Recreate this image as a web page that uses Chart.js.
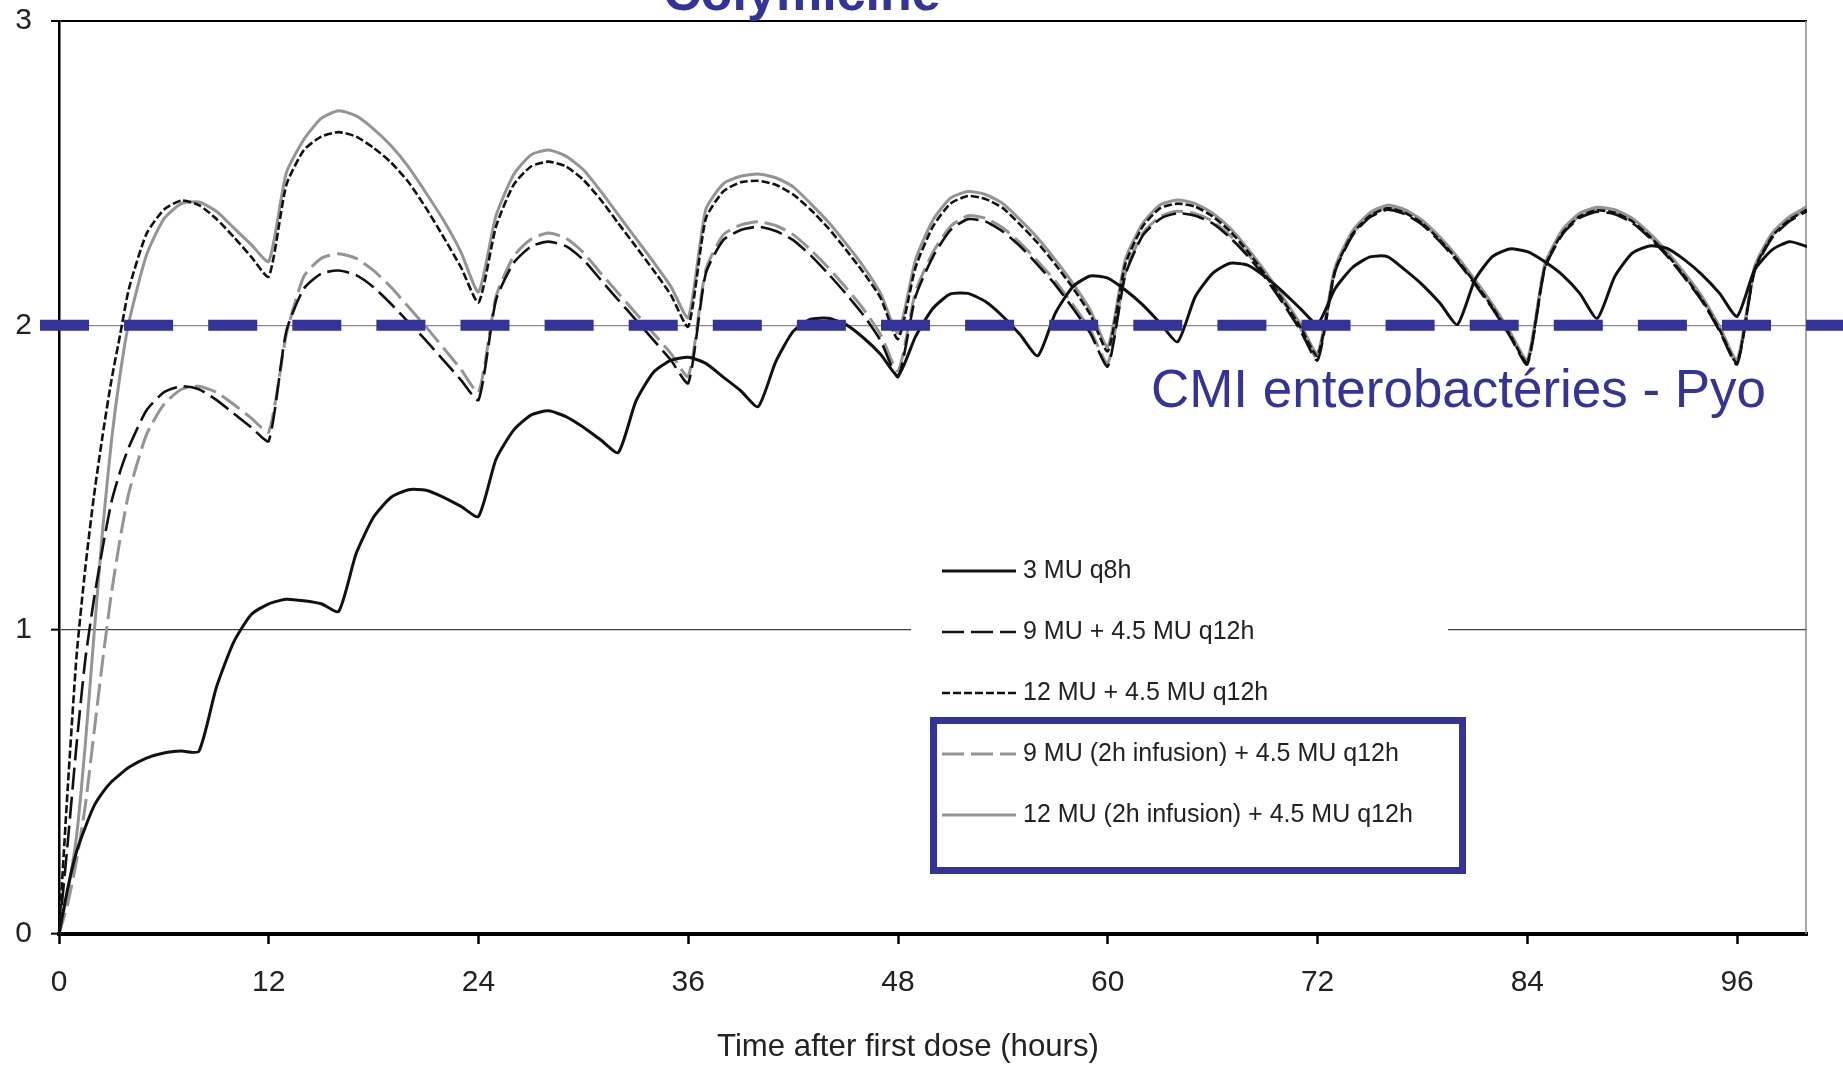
<!DOCTYPE html>
<html>
<head>
<meta charset="utf-8">
<title>Colymicine</title>
<script src="https://cdn.jsdelivr.net/npm/chart.js@4.4.1/dist/chart.umd.min.js"></script>
<style>
  html, body { margin: 0; padding: 0; background: #fff; }
  #wrap { width: 1843px; height: 1065px; }
</style>
</head>
<body>
<div id="wrap"><canvas id="pk-chart" width="1843" height="1065"></canvas></div>
<script>
// ─── Data ────────────────────────────────────────────────────────────────────

const hours = [
  0, 0.5, 1, 1.5, 2, 2.5, 3, 3.5, 4,
  5, 6, 7, 8, 9, 10, 11, 12,
  13, 14, 15, 16, 17, 18, 19, 20, 21, 22, 23, 24,
  25, 26, 27, 28, 29, 30, 31, 32, 33, 34, 35, 36,
  37, 38, 39, 40, 41, 42, 43, 44, 45, 46, 47, 48,
  49, 50, 51, 52, 53, 54, 55, 56, 57, 58, 59, 60,
  61, 62, 63, 64, 65, 66, 67, 68, 69, 70, 71, 72,
  73, 74, 75, 76, 77, 78, 79, 80, 81, 82, 83, 84,
  85, 86, 87, 88, 89, 90, 91, 92, 93, 94, 95, 96,
  97, 98, 99, 100,
];

// 3 MU q8h
const q8h = [
  0, 0.15, 0.27, 0.35, 0.42, 0.465, 0.50, 0.525, 0.548,
  0.578, 0.595, 0.601, 0.600, 0.81, 0.96, 1.05, 1.085,
  1.10, 1.095, 1.085, 1.06, 1.25, 1.37, 1.435, 1.46, 1.458, 1.435, 1.405, 1.372,
  1.56, 1.655, 1.705, 1.719, 1.70, 1.665, 1.623, 1.582, 1.75, 1.845, 1.885, 1.895,
  1.875, 1.83, 1.785, 1.733, 1.88, 1.98, 2.02, 2.023, 2.003, 1.96, 1.905, 1.835,
  1.963, 2.056, 2.103, 2.105, 2.078, 2.029, 1.968, 1.90, 2.04, 2.127, 2.162, 2.155,
  2.116, 2.067, 2.007, 1.946, 2.094, 2.171, 2.204, 2.198, 2.16, 2.111, 2.056, 2.005,
  2.12, 2.19, 2.225, 2.226, 2.182, 2.133, 2.073, 2.003, 2.149, 2.226, 2.251, 2.242,
  2.209, 2.166, 2.105, 2.023, 2.16, 2.237, 2.261, 2.253, 2.215, 2.166, 2.105, 2.029,
  2.182, 2.248, 2.275, 2.259,
];

// 9 MU + 4.5 MU q12h
const load9 = [
  0, 0.3, 0.62, 0.9, 1.1, 1.27, 1.42, 1.52, 1.60,
  1.72, 1.78, 1.80, 1.79, 1.755, 1.71, 1.665, 1.62,
  1.98, 2.12, 2.17, 2.18, 2.165, 2.125, 2.07, 2.01, 1.95, 1.885, 1.82, 1.755,
  2.083, 2.204, 2.259, 2.275, 2.26, 2.215, 2.149, 2.083, 2.018, 1.952, 1.886, 1.81,
  2.17, 2.28, 2.313, 2.324, 2.31, 2.28, 2.23, 2.17, 2.105, 2.035, 1.95, 1.83,
  2.094, 2.226, 2.313, 2.349, 2.341, 2.308, 2.259, 2.198, 2.133, 2.056, 1.974, 1.865,
  2.165, 2.295, 2.35, 2.368, 2.36, 2.335, 2.288, 2.228, 2.157, 2.074, 1.985, 1.885,
  2.175, 2.295, 2.355, 2.38, 2.365, 2.33, 2.275, 2.21, 2.135, 2.055, 1.965, 1.872,
  2.185, 2.298, 2.353, 2.373, 2.365, 2.337, 2.287, 2.227, 2.156, 2.079, 1.981, 1.872,
  2.178, 2.287, 2.342, 2.375,
];

// 12 MU + 4.5 MU q12h
const load12 = [
  0, 0.48, 0.91, 1.2, 1.44, 1.64, 1.82, 1.97, 2.12,
  2.30, 2.38, 2.41, 2.395, 2.35, 2.29, 2.225, 2.16,
  2.46, 2.575, 2.62, 2.635, 2.62, 2.583, 2.535, 2.47, 2.385, 2.29, 2.19, 2.075,
  2.324, 2.461, 2.522, 2.538, 2.522, 2.478, 2.412, 2.335, 2.259, 2.182, 2.10, 1.996,
  2.35, 2.44, 2.47, 2.475, 2.462, 2.43, 2.38, 2.32, 2.25, 2.175, 2.09, 1.955,
  2.19, 2.325, 2.40, 2.425, 2.415, 2.385, 2.33, 2.27, 2.20, 2.123, 2.035, 1.915,
  2.20, 2.325, 2.385, 2.40, 2.39, 2.358, 2.309, 2.243, 2.167, 2.084, 1.997, 1.90,
  2.18, 2.30, 2.36, 2.385, 2.37, 2.335, 2.28, 2.215, 2.14, 2.06, 1.97, 1.878,
  2.19, 2.303, 2.358, 2.378, 2.37, 2.342, 2.292, 2.232, 2.161, 2.084, 1.986, 1.877,
  2.183, 2.292, 2.347, 2.38,
];

// 9 MU (2h infusion) + 4.5 MU q12h
const inf9 = [
  0, 0.1, 0.24, 0.42, 0.66, 0.9, 1.12, 1.3, 1.45,
  1.64, 1.74, 1.79, 1.80, 1.78, 1.74, 1.695, 1.65,
  1.968, 2.16, 2.22, 2.235, 2.22, 2.18, 2.125, 2.06, 1.995, 1.925, 1.855, 1.78,
  2.094, 2.226, 2.283, 2.303, 2.286, 2.239, 2.171, 2.105, 2.04, 1.974, 1.908, 1.832,
  2.182, 2.297, 2.33, 2.34, 2.328, 2.298, 2.248, 2.19, 2.125, 2.055, 1.97, 1.85,
  2.11, 2.24, 2.325, 2.36, 2.352, 2.32, 2.27, 2.21, 2.145, 2.068, 1.985, 1.875,
  2.172, 2.302, 2.357, 2.375, 2.367, 2.342, 2.295, 2.235, 2.164, 2.081, 1.992, 1.892,
  2.182, 2.302, 2.362, 2.387, 2.372, 2.337, 2.282, 2.217, 2.142, 2.062, 1.972, 1.878,
  2.192, 2.305, 2.36, 2.38, 2.372, 2.344, 2.294, 2.234, 2.163, 2.086, 1.988, 1.878,
  2.185, 2.294, 2.349, 2.382,
];

// 12 MU (2h infusion) + 4.5 MU q12h
const inf12 = [
  0, 0.14, 0.32, 0.62, 0.98, 1.33, 1.62, 1.84, 2.01,
  2.23, 2.35, 2.40, 2.405, 2.375, 2.32, 2.265, 2.21,
  2.50, 2.61, 2.68, 2.705, 2.688, 2.645, 2.59, 2.52, 2.435, 2.345, 2.24, 2.11,
  2.36, 2.494, 2.56, 2.576, 2.556, 2.511, 2.44, 2.363, 2.286, 2.209, 2.128, 2.025,
  2.38, 2.465, 2.49, 2.497, 2.485, 2.455, 2.40, 2.34, 2.27, 2.195, 2.105, 1.975,
  2.215, 2.346, 2.418, 2.44, 2.43, 2.40, 2.346, 2.286, 2.215, 2.138, 2.05, 1.93,
  2.215, 2.335, 2.396, 2.412, 2.40, 2.368, 2.319, 2.253, 2.177, 2.094, 2.007, 1.908,
  2.19, 2.31, 2.37, 2.395, 2.38, 2.345, 2.29, 2.225, 2.15, 2.07, 1.98, 1.886,
  2.2, 2.313, 2.368, 2.388, 2.38, 2.352, 2.302, 2.242, 2.171, 2.094, 1.996, 1.886,
  2.193, 2.302, 2.357, 2.39,
];

const seriesLabels = [
  "3 MU q8h",
  "9 MU + 4.5 MU q12h",
  "12 MU + 4.5 MU q12h",
  "9 MU (2h infusion) + 4.5 MU q12h",
  "12 MU (2h infusion) + 4.5 MU q12h",
];

const xTicks = [0, 12, 24, 36, 48, 60, 72, 84, 96];
const yTicks = [0, 1, 2, 3];
const micValue = 2;

const titleText = "Colymicine";
const micText = "CMI enterobactéries - Pyo";
const xAxisTitle = "Time after first dose (hours)";

// ─── Styles ───────────────────────────────────────────────────────────────────

const BLUE = "#333399";
const BLACK = "#111111";
const GREY = "#949494";
const FONT = "'Liberation Sans', Arial, Helvetica, sans-serif";

function toPoints(values) {
  return hours.map((h, i) => ({ x: h, y: values[i] }));
}

function fitText(ctx, text, x, y, width) {
  const w = ctx.measureText(text).width;
  ctx.save();
  ctx.translate(x, y);
  ctx.scale(width / w, 1);
  ctx.fillText(text, 0, 0);
  ctx.restore();
}

// ─── Overlay: legend, MIC line, annotations ──────────────────────────────────

const overlay = {
  id: "overlay",
  beforeDatasetsDraw(chart) {
    const { ctx, chartArea } = chart;
    ctx.save();
    // white patch behind the legend (breaks the y=1 gridline)
    ctx.fillStyle = "#fff";
    ctx.fillRect(911, 540, 537, 340);
    // right frame line
    ctx.strokeStyle = "#8a8a8a";
    ctx.lineWidth = 1.5;
    ctx.beginPath();
    ctx.moveTo(chartArea.right - 1, chartArea.top);
    ctx.lineTo(chartArea.right - 1, chartArea.bottom);
    ctx.stroke();
    ctx.restore();
  },
  afterDatasetsDraw(chart) {
    const { ctx } = chart;
    const yScale = chart.scales.y;
    ctx.save();

    // MIC threshold
    const yMic = yScale.getPixelForValue(micValue);
    ctx.strokeStyle = BLUE;
    ctx.lineWidth = 11;
    ctx.setLineDash([49, 35.1]);
    ctx.beginPath();
    ctx.moveTo(40, yMic);
    ctx.lineTo(1843, yMic);
    ctx.stroke();
    ctx.setLineDash([]);

    ctx.fillStyle = BLUE;
    ctx.textBaseline = "alphabetic";
    ctx.textAlign = "left";
    ctx.font = `54px ${FONT}`;
    fitText(ctx, micText, 1151, 407, 615);

    // title, cut at the top edge
    ctx.font = `bold 52px ${FONT}`;
    ctx.textAlign = "center";
    ctx.fillText(titleText, 802, 10);

    // x axis title
    ctx.fillStyle = "#222";
    ctx.textAlign = "left";
    ctx.font = `32px ${FONT}`;
    fitText(ctx, xAxisTitle, 717, 1056, 382);

    // legend
    const rows = [571, 632, 693, 754, 815];
    ctx.font = `25px ${FONT}`;
    ctx.textBaseline = "middle";
    chart.data.datasets.forEach((ds, i) => {
      const y = rows[i];
      ctx.strokeStyle = ds.borderColor;
      ctx.lineWidth = ds.borderWidth;
      ctx.setLineDash(ds.borderDash || []);
      ctx.beginPath();
      ctx.moveTo(942, y);
      ctx.lineTo(1016, y);
      ctx.stroke();
      ctx.setLineDash([]);
      ctx.fillStyle = "#222";
      ctx.fillText(ds.label, 1023, y);
    });

    // highlight box round the infusion regimens
    ctx.strokeStyle = BLUE;
    ctx.lineWidth = 7;
    ctx.strokeRect(933.5, 720.5, 529, 150);

    ctx.restore();
  },
};

// ─── Chart ────────────────────────────────────────────────────────────────────

const canvas = document.getElementById("pk-chart");

new Chart(canvas, {
  type: "line",
  data: {
    datasets: [
      { label: seriesLabels[0], data: toPoints(q8h), borderColor: BLACK, borderWidth: 3 },
      { label: seriesLabels[1], data: toPoints(load9), borderColor: BLACK, borderWidth: 2.6, borderDash: [22, 7] },
      { label: seriesLabels[2], data: toPoints(load12), borderColor: BLACK, borderWidth: 2.6, borderDash: [8, 3] },
      { label: seriesLabels[3], data: toPoints(inf9), borderColor: GREY, borderWidth: 3, borderDash: [22, 7] },
      { label: seriesLabels[4], data: toPoints(inf12), borderColor: GREY, borderWidth: 3 },
    ],
  },
  options: {
    responsive: false,
    animation: false,
    layout: { padding: { top: 21, right: 36, left: 0, bottom: 0 } },
    elements: {
      point: { radius: 0 },
      line: { tension: 0.2, fill: false },
    },
    plugins: {
      legend: { display: false },
      tooltip: { enabled: false },
    },
    scales: {
      x: {
        type: "linear",
        min: 0,
        max: 100,
        afterBuildTicks: (s) => { s.ticks = xTicks.map((v) => ({ value: v })); },
        afterFit: (s) => { s.height = 131; s.paddingLeft = 0; s.paddingRight = 0; },
        ticks: { color: "#222", font: { family: FONT, size: 30 }, padding: 21, maxRotation: 0 },
        grid: { drawOnChartArea: false, tickLength: 10, tickColor: "#000", tickWidth: 2.5 },
        border: { color: "#000", width: 4 },
      },
      y: {
        min: 0,
        max: 3,
        afterBuildTicks: (s) => { s.ticks = yTicks.map((v) => ({ value: v })); },
        afterFit: (s) => { s.width = 59; s.paddingTop = 0; s.paddingBottom = 0; },
        ticks: { color: "#222", font: { family: FONT, size: 30 }, padding: 19 },
        grid: {
          color: (c) => (c.tick && c.tick.value === 3 ? "#000" : c.tick && c.tick.value === 2 ? "#8a8a8a" : "#444"),
          lineWidth: (c) => (c.tick && c.tick.value === 3 ? 2 : 1.3),
          tickLength: 8,
          tickColor: "#000",
          tickWidth: 2,
        },
        border: { color: "#000", width: 2.5 },
      },
    },
  },
  plugins: [overlay],
});
</script>
</body>
</html>
